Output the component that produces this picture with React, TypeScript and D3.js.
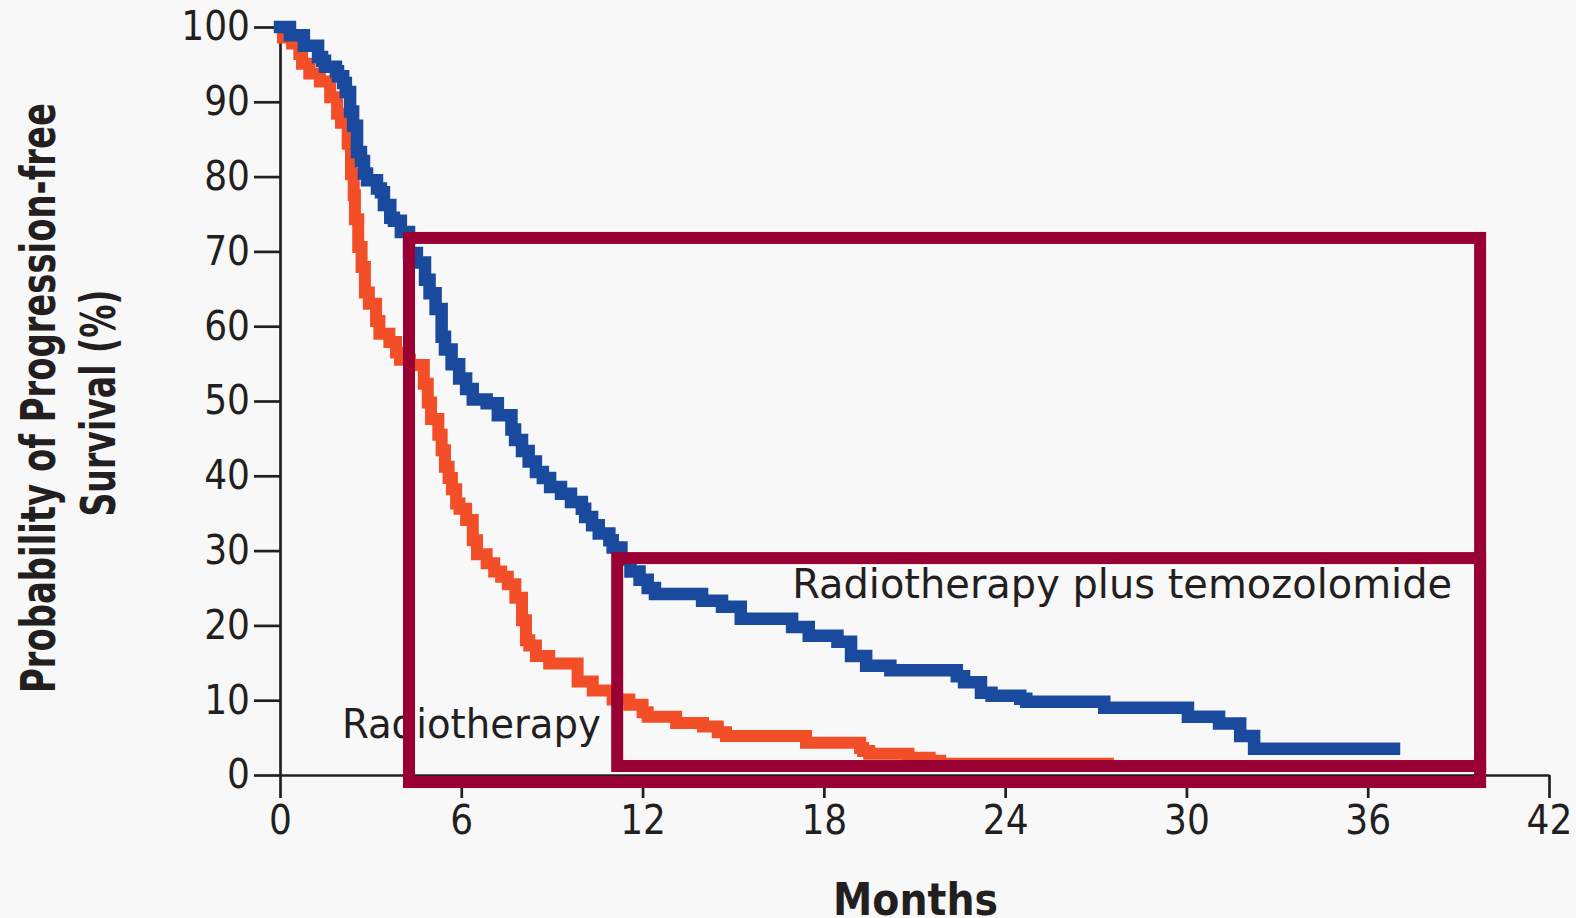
import React, { useEffect, useRef } from "react";
import * as d3 from "d3";

const W = 1576;
const H = 918;

// Kaplan-Meier steps: [month, % progression-free]
const rtPlusTmz: [number, number][] = [
  [0, 100], [0.33, 98.9], [0.79, 97.5], [1.26, 96.0], [1.39, 95.5], [1.49, 94.7],
  [1.85, 94.1], [1.92, 93.4], [2.09, 92.5], [2.18, 91.3], [2.32, 88.7], [2.42, 86.8],
  [2.55, 83.3], [2.68, 82.1], [2.78, 80.4], [2.88, 79.5], [3.21, 78.4], [3.34, 77.9],
  [3.44, 76.2], [3.65, 74.5], [3.77, 74.1], [4.0, 72.6], [4.27, 69.8], [4.53, 68.5],
  [4.8, 66.2], [4.95, 64.4], [5.15, 62.3], [5.35, 58.6], [5.46, 56.9], [5.68, 54.9],
  [5.93, 53.0], [6.16, 51.6], [6.38, 50.2], [6.84, 49.7], [7.21, 48.1], [7.66, 46.2],
  [7.78, 44.8], [8.01, 43.3], [8.23, 41.9], [8.47, 40.5], [8.7, 39.7], [8.94, 38.5],
  [9.3, 37.6], [9.63, 36.5], [9.99, 35.6], [10.1, 34.5], [10.33, 33.4], [10.55, 32.3],
  [10.9, 31.4], [11.01, 30.4], [11.3, 28.8], [11.6, 27.2], [11.9, 26.1], [12.17, 25.0],
  [12.41, 24.2], [13.97, 23.3], [14.63, 22.5], [15.25, 20.9], [16.95, 19.8], [17.5, 18.6],
  [18.45, 17.8], [18.9, 15.9], [19.4, 14.6], [20.2, 14.0], [22.4, 13.2], [22.64, 12.4],
  [23.2, 11.0], [23.55, 10.6], [24.5, 10.2], [24.7, 9.8], [27.28, 9.0], [30.05, 7.8],
  [31.08, 6.9], [31.78, 5.2], [32.24, 3.5], [36.87, 3.5],
];

const rtAlone: [number, number][] = [
  [0, 100], [0.1, 98.6], [0.4, 97.8], [0.64, 96.4], [0.73, 95.1], [0.97, 93.8],
  [1.32, 92.7], [1.66, 90.6], [1.89, 88.4], [2.02, 87.2], [2.24, 84.4], [2.35, 80.3],
  [2.44, 77.5], [2.48, 74.3], [2.59, 70.6], [2.7, 67.9], [2.81, 64.5], [2.94, 63.0],
  [3.18, 60.7], [3.29, 59.0], [3.62, 57.9], [3.84, 56.5], [3.97, 55.5], [4.3, 54.8],
  [4.76, 52.3], [4.89, 49.8], [5.0, 47.6], [5.24, 45.5], [5.35, 43.4], [5.46, 41.2],
  [5.58, 39.7], [5.69, 38.2], [5.83, 36.3], [5.94, 35.6], [6.16, 34.1], [6.38, 31.4],
  [6.52, 29.5], [6.84, 28.3], [7.09, 27.2], [7.32, 26.5], [7.54, 25.5], [7.79, 23.7],
  [8.01, 20.7], [8.14, 18.0], [8.25, 17.3], [8.47, 15.9], [8.91, 14.9], [9.85, 12.5],
  [10.35, 11.3], [11.01, 10.1], [11.56, 9.4], [12.0, 8.4], [12.17, 7.8], [13.11, 6.95],
  [14.0, 6.5], [14.49, 5.7], [14.76, 5.2], [17.41, 4.3], [19.2, 3.6], [19.3, 3.2],
  [19.5, 2.85], [20.8, 2.3], [21.5, 1.9], [21.85, 1.5], [27.4, 1.5],
];

const xTicks = [0, 6, 12, 18, 24, 30, 36, 42];
const yTicks = [0, 10, 20, 30, 40, 50, 60, 70, 80, 90, 100];

const seriesLabels = ["Radiotherapy plus temozolomide", "Radiotherapy"];
const xTitle = "Months";
const yTitle = ["Probability of Progression-free", "Survival (%)"];

// highlight boxes in data units: [month0, month1, pctTop, pctBottom]
const boxes: [number, number, number, number][] = [
  [4.27, 39.72, 71.8, -0.94],
  [11.16, 39.72, 29.0, 1.2],
];

const INK = "#231f20";
const BLUE = "#1a4a9e";
const ORANGE = "#f24e27";
const CRIMSON = "#990033";

export default function App() {
  const ref = useRef<SVGSVGElement>(null);

  useEffect(() => {
    const svg = d3.select(ref.current);
    svg.selectAll("*").remove();

    const x = d3.scaleLinear().domain([0, 42]).range([280, 1549]);
    const y = d3.scaleLinear().domain([0, 100]).range([775, 27]);

    svg.append("rect").attr("width", W).attr("height", H).attr("fill", "#f8f8f8");

    const tickFont = "'DejaVu Sans Condensed', 'DejaVu Sans', sans-serif";

    const yAxis = svg
      .append("g")
      .attr("transform", `translate(${x(0)},0)`)
      .call(d3.axisLeft(y).tickValues(yTicks).tickSize(26).tickSizeOuter(0).tickPadding(4));

    const xAxis = svg
      .append("g")
      .attr("transform", `translate(0,${y(0)})`)
      .call(d3.axisBottom(x).tickValues(xTicks).tickSize(23).tickSizeOuter(0).tickPadding(8));

    [yAxis, xAxis].forEach((g) => {
      g.selectAll("path, line").attr("stroke", INK).attr("stroke-width", 2.7);
      g.selectAll("text")
        .attr("fill", INK)
        .style("font-family", tickFont)
        .style("font-stretch", "condensed")
        .style("font-size", "40px");
    });

    const line = d3
      .line<[number, number]>()
      .x((d) => x(d[0]))
      .y((d) => y(d[1]))
      .curve(d3.curveStepAfter);

    svg
      .append("path")
      .attr("d", line(rtAlone))
      .attr("fill", "none")
      .attr("stroke", ORANGE)
      .attr("stroke-width", 12)
      .attr("stroke-linecap", "square")
      .attr("stroke-linejoin", "miter");

    svg
      .append("path")
      .attr("d", line(rtPlusTmz))
      .attr("fill", "none")
      .attr("stroke", BLUE)
      .attr("stroke-width", 12.5)
      .attr("stroke-linecap", "square")
      .attr("stroke-linejoin", "miter");

    const labelFont = "'DejaVu Sans', sans-serif";
    svg
      .append("text")
      .attr("x", x(16.95))
      .attr("y", y(23.7))
      .attr("textLength", 660)
      .attr("lengthAdjust", "spacingAndGlyphs")
      .style("font-family", labelFont)
      .style("font-size", "40px")
      .attr("fill", INK)
      .text(seriesLabels[0]);

    svg
      .append("text")
      .attr("x", x(2.05))
      .attr("y", y(4.95))
      .attr("textLength", 259)
      .attr("lengthAdjust", "spacingAndGlyphs")
      .style("font-family", labelFont)
      .style("font-size", "40px")
      .attr("fill", INK)
      .text(seriesLabels[1]);

    const titleFont = "'Liberation Sans Narrow', 'DejaVu Sans Condensed', 'DejaVu Sans', sans-serif";
    svg
      .append("text")
      .attr("x", 833)
      .attr("y", 915)
      .attr("textLength", 165)
      .attr("lengthAdjust", "spacingAndGlyphs")
      .style("font-family", "'DejaVu Sans Condensed', 'DejaVu Sans', sans-serif")
      .style("font-stretch", "condensed")
      .style("font-weight", "bold")
      .style("font-size", "44px")
      .attr("fill", INK)
      .text(xTitle);

    const yTitlePos = [
      { cx: 55, cy: 398, len: 590 },
      { cx: 115, cy: 403, len: 227 },
    ];
    yTitle.forEach((t, i) => {
      const p = yTitlePos[i];
      svg
        .append("text")
        .attr("transform", `translate(${p.cx},${p.cy}) rotate(-90)`)
        .attr("text-anchor", "middle")
        .attr("textLength", p.len)
        .attr("lengthAdjust", "spacingAndGlyphs")
        .style("font-family", titleFont)
        .style("font-weight", "bold")
        .style("font-size", "48px")
        .attr("fill", INK)
        .text(t);
    });

    svg
      .selectAll(".box")
      .data(boxes)
      .join("rect")
      .attr("class", "box")
      .attr("x", (d) => x(d[0]))
      .attr("y", (d) => y(d[2]))
      .attr("width", (d) => x(d[1]) - x(d[0]))
      .attr("height", (d) => y(d[3]) - y(d[2]))
      .attr("fill", "none")
      .attr("stroke", CRIMSON)
      .attr("stroke-width", 12);
  }, []);

  return (
    <div style={{ position: "absolute", left: 0, top: 0 }}>
      <svg ref={ref} width={W} height={H} style={{ display: "block" }} />
    </div>
  );
}
